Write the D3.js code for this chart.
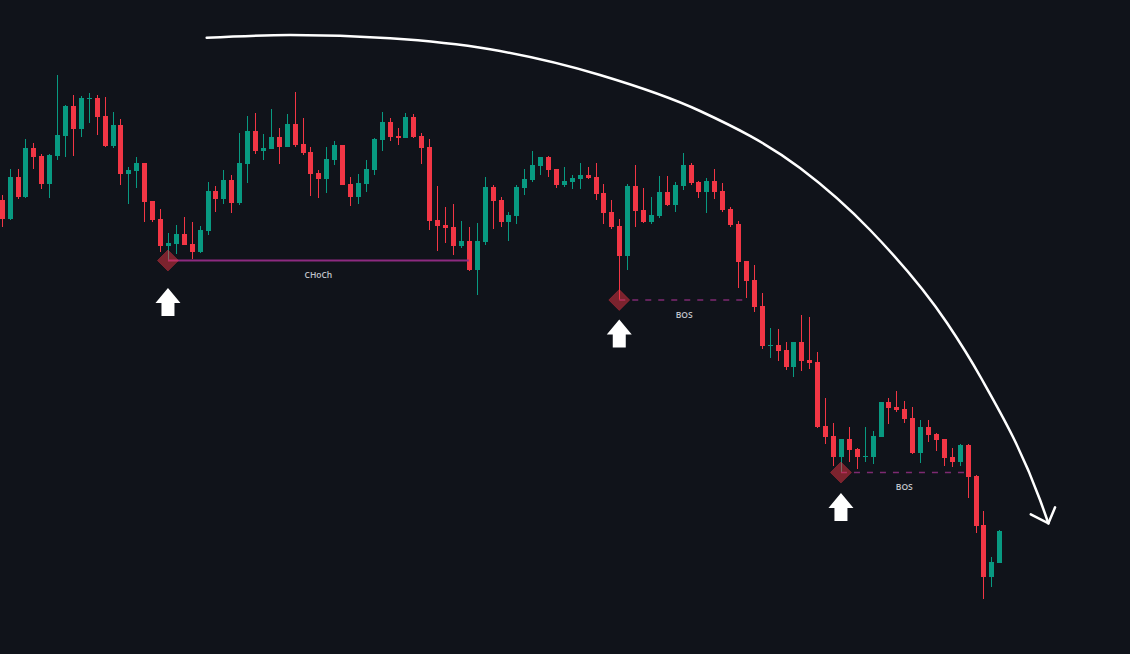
<!DOCTYPE html>
<html><head><meta charset="utf-8">
<script src="https://cdn.jsdelivr.net/npm/d3@7"></script>
<style>html,body{margin:0;padding:0;background:#10131a;overflow:hidden}svg{display:block}</style>
</head><body>
<svg id="c" width="1130" height="654"></svg>
<script>
// OHLC values (one per candle, left to right)
const opens  = [454,435,477,457,506,498,470,498,518,548,525,555,556,538,508,529,480,483,491,453,435,408,410,420,410,402,423,463,455,474,451,490,523,503,505,517,507,530,510,502,481,475,494,509,470,457,470,484,514,532,518,516,537,518,507,434,429,427,408,413,384,412,467,454,432,438,466,474,488,497,485,469,472,475,479,477,461,442,428,398,468,444,432,438,462,449,468,489,472,462,473,463,445,430,393,374,348,308,309,304,287,312,294,292,228,218,197,215,205,197,197,217,252,247,245,236,201,227,220,215,197,192,209,178,129,77,91];
const highs  = [459,485,485,515,511,500,500,579,549,559,558,561,559,557,542,535,487,497,491,453,445,421,429,437,432,428,472,468,484,479,521,538,541,520,545,526,540,562,536,507,484,507,513,509,477,480,494,516,542,536,526,541,540,521,515,468,447,450,433,427,431,477,469,457,442,469,485,503,497,498,485,487,479,491,487,491,470,454,435,470,489,466,457,478,478,472,501,491,473,476,485,471,447,433,393,389,361,326,325,312,312,339,337,302,256,231,215,227,206,227,223,252,256,263,253,247,234,234,221,215,206,210,210,179,143,97,124];
const lows   = [427,434,455,456,485,465,456,494,497,498,517,531,519,507,506,469,450,466,432,432,402,394,400,409,395,401,419,442,450,441,449,471,500,494,505,490,507,507,499,458,456,461,489,469,448,450,462,479,503,513,509,516,516,490,424,403,411,399,406,383,359,409,425,427,413,430,459,472,479,477,466,467,465,465,475,454,430,425,354,384,427,431,430,436,448,442,464,469,456,441,455,442,427,366,356,342,305,296,293,284,277,283,285,226,210,188,181,192,185,192,190,217,230,242,231,200,191,212,203,188,187,188,156,121,55,67,91];
const closes = [435,477,457,506,497,470,499,519,548,525,556,556,537,508,529,480,484,491,452,434,408,411,420,409,402,424,463,455,474,451,491,523,503,506,517,507,530,509,501,480,475,495,509,469,457,471,485,515,532,517,516,537,517,506,433,428,426,408,413,384,413,467,453,432,439,467,475,489,497,484,469,473,476,479,476,460,441,427,398,468,443,432,439,462,449,469,489,471,462,473,462,444,429,392,373,347,308,309,303,287,312,293,291,227,217,197,215,204,197,198,218,252,246,244,235,201,227,219,214,196,192,209,177,128,77,92,123];

// structure annotations: pivot candle index, break candle index, level price
const levelLabels = ["CHoCh", "BOS", "BOS"];
const levelFrom   = [21, 78, 106];
const levelTo     = [59, 94.4, 122];
const levelPrice  = [393.5, 354, 181.5];
const levelDashed = [false, true, true];

// up-arrow markers: candle index and price of the arrow tip
const arrowIdx   = [21, 78, 106];
const arrowPrice = [366, 334.5, 161];

// large trend arc, in (candle index, price)
const arcIdx   = [25.89, 36.42, 49.05, 61.68, 75.57, 88.2, 100.83, 109.68, 119.4, 123.7, 131.15, 132.2];
const arcPrice = [616.3, 619, 615.7, 604.7, 579, 543, 486, 424, 331, 276, 154, 130.7];

const W = 1130, H = 654;
const svg = d3.select("#c");
svg.append("rect").attr("width", W).attr("height", H).attr("fill", "#10131a");

const x = d3.scaleLinear().domain([0, opens.length - 1]).range([1.7, 999.3]);
const y = d3.scaleLinear().domain([0, 654]).range([654, 0]);

const UP = "#089981", DN = "#f23645";
const candles = opens.map((o, i) => ({i, o, h: highs[i], l: lows[i], c: closes[i]}));

const g = svg.append("g");
const cg = g.selectAll("g.candle").data(candles).join("g").attr("class", "candle");
cg.append("line")
  .attr("x1", d => Math.round(x(d.i)) + 0.5).attr("x2", d => Math.round(x(d.i)) + 0.5)
  .attr("y1", d => y(d.h)).attr("y2", d => y(d.l))
  .attr("stroke", d => d.c >= d.o ? UP : DN).attr("stroke-width", 1);
cg.append("rect")
  .attr("x", d => Math.round(x(d.i)) - 2).attr("width", 5)
  .attr("y", d => y(Math.max(d.o, d.c)))
  .attr("height", d => Math.max(1, Math.abs(y(d.o) - y(d.c))))
  .attr("fill", d => d.c >= d.o ? UP : DN);

// levels
levelLabels.forEach((lab, k) => {
  const x1 = x(levelFrom[k]), x2 = x(levelTo[k]), yy = y(levelPrice[k]);
  const ln = svg.append("line").attr("x1", x1).attr("x2", x2).attr("y1", yy).attr("y2", yy)
    .attr("stroke", levelDashed[k] ? "#7d2a72" : "#8d2a80")
    .attr("stroke-width", levelDashed[k] ? 1.3 : 2);
  if (levelDashed[k]) ln.attr("stroke-dasharray", "6,7");
  svg.append("text").attr("x", (x1 + x2) / 2).attr("y", yy + 17.5)
    .attr("text-anchor", "middle").attr("font-family", "Open Sans")
    .attr("font-weight", 600)
    .attr("font-size", 8.5).attr("fill", "#c0c3ca").text(lab);
});

// pivot diamonds
levelFrom.forEach((fi, k) => {
  const cx = x(fi), cy = y(levelPrice[k]), r = 10.5;
  svg.append("path")
    .attr("d", `M${cx},${cy - r}L${cx + r},${cy}L${cx},${cy + r}L${cx - r},${cy}Z`)
    .attr("fill", "rgba(242,54,69,0.48)").attr("stroke", "rgba(242,54,69,0.3)").attr("stroke-width", 1);
});

// up arrows
arrowIdx.forEach((ai, k) => {
  const cx = x(ai), ty = y(arrowPrice[k]);
  svg.append("path")
    .attr("d", `M${cx},${ty}L${cx + 12.5},${ty + 15}L${cx + 6.5},${ty + 15}L${cx + 6.5},${ty + 28}L${cx - 6.5},${ty + 28}L${cx - 6.5},${ty + 15}L${cx - 12.5},${ty + 15}Z`)
    .attr("fill", "#ffffff");
});

// trend arc
const pts = arcIdx.map((v, i) => [x(v), y(arcPrice[i])]);
svg.append("path").attr("d", d3.line().curve(d3.curveMonotoneX)(pts))
  .attr("fill", "none").attr("stroke", "#ffffff").attr("stroke-width", 2.5).attr("stroke-linecap", "round");
const tip = pts[pts.length - 1];
svg.append("path")
  .attr("d", `M${tip[0] - 17.6},${tip[1] - 9}L${tip[0]},${tip[1]}L${tip[0] + 6.7},${tip[1] - 16}`)
  .attr("fill", "none").attr("stroke", "#ffffff").attr("stroke-width", 2.5)
  .attr("stroke-linecap", "round").attr("stroke-linejoin", "miter");
</script>
</body></html>
